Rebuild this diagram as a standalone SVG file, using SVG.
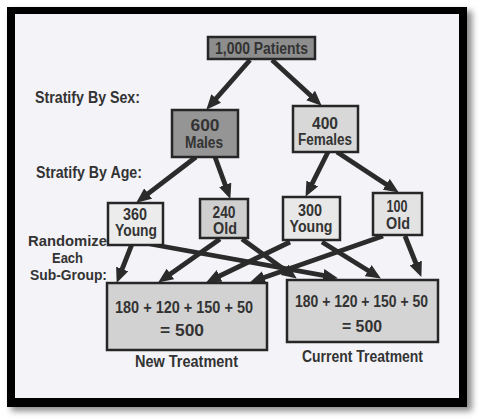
<svg xmlns="http://www.w3.org/2000/svg" width="479" height="419" viewBox="0 0 479 419">
<style>
.t{font-family:"Liberation Sans",Arial,sans-serif;font-weight:bold;font-size:16px;fill:#333;}
.s{font-size:14.5px;}
.m{text-anchor:middle;}
.box{stroke:#262626;stroke-width:2.5;}
.c{stroke:#2b2b2b;stroke-width:4.8;fill:none;marker-end:url(#ah);}
</style>
<defs>
<marker id="ah" markerUnits="userSpaceOnUse" markerWidth="15" markerHeight="13" refX="7" refY="6.5" orient="auto">
<path d="M0,0 L15,6.5 L0,13 z" fill="#2b2b2b"/>
</marker>
<filter id="sh" x="-5%" y="-5%" width="110%" height="110%"><feGaussianBlur stdDeviation="3"/></filter>
</defs>
<rect width="479" height="419" fill="#ffffff"/>
<rect x="11" y="11" width="461" height="400" fill="#8a8a8a" filter="url(#sh)"/>
<rect x="7" y="7" width="460" height="400" fill="#000"/>
<rect x="15" y="14" width="444" height="384" fill="#f4f3f8"/>

<g id="labels">
<text class="t" x="35" y="103" textLength="105" lengthAdjust="spacingAndGlyphs">Stratify By Sex:</text>
<text class="t" x="36" y="178" textLength="106" lengthAdjust="spacingAndGlyphs">Stratify By Age:</text>
<text class="t s m" x="67.5" y="246" textLength="79" lengthAdjust="spacingAndGlyphs">Randomize</text>
<text class="t s m" x="67.5" y="263" textLength="31" lengthAdjust="spacingAndGlyphs">Each</text>
<text class="t s m" x="68.5" y="280" textLength="77" lengthAdjust="spacingAndGlyphs">Sub-Group:</text>
</g>

<g id="connectors">
<line class="c" x1="250" y1="60" x2="211.6" y2="103.7"/>
<line class="c" x1="272" y1="60" x2="315.8" y2="100.3"/>
<line class="c" x1="196" y1="157" x2="142.6" y2="197.8"/>
<line class="c" x1="215" y1="157" x2="227.6" y2="191.4"/>
<line class="c" x1="328" y1="152" x2="309.1" y2="189.7"/>
<line class="c" x1="337" y1="152" x2="392.1" y2="188.2"/>
<line class="c" x1="132" y1="244" x2="119.6" y2="275.5"/>
<line class="c" x1="150" y1="244" x2="330.1" y2="276.7"/>
<line class="c" x1="220" y1="239" x2="164.7" y2="278.0"/>
<line class="c" x1="242" y1="239" x2="290.3" y2="273.9"/>
<line class="c" x1="290" y1="242" x2="213.3" y2="279.0"/>
<line class="c" x1="322" y1="242" x2="374.1" y2="274.3"/>
<line class="c" x1="383" y1="236" x2="257.6" y2="279.7"/>
<line class="c" x1="405" y1="236" x2="418.4" y2="269.5"/>
</g>

<g id="patients">
<rect class="box" x="208" y="37" width="107" height="22" fill="#8d8d8d"/>
<text class="t m" x="261.5" y="54" textLength="93" lengthAdjust="spacingAndGlyphs">1,000 Patients</text>
</g>
<g id="males">
<rect class="box" x="172" y="110" width="66" height="47" fill="#959595"/>
<text class="t m" x="205" y="131" textLength="29" lengthAdjust="spacingAndGlyphs">600</text>
<text class="t m" x="204" y="148" textLength="38" lengthAdjust="spacingAndGlyphs">Males</text>
</g>
<g id="females">
<rect class="box" x="293" y="106" width="65" height="46" fill="#d8d8d8"/>
<text class="t m" x="325" y="129" textLength="26" lengthAdjust="spacingAndGlyphs">400</text>
<text class="t m" x="325" y="145" textLength="54" lengthAdjust="spacingAndGlyphs">Females</text>
</g>
<g id="young360">
<rect class="box" x="108" y="203" width="55" height="42" fill="#ececec"/>
<text class="t m" x="135" y="220" textLength="24" lengthAdjust="spacingAndGlyphs">360</text>
<text class="t m" x="136" y="236" textLength="42" lengthAdjust="spacingAndGlyphs">Young</text>
</g>
<g id="old240">
<rect class="box" x="200" y="199" width="48" height="39" fill="#cfcfcf"/>
<text class="t m" x="224" y="218" textLength="23" lengthAdjust="spacingAndGlyphs">240</text>
<text class="t m" x="225" y="234" textLength="24" lengthAdjust="spacingAndGlyphs">Old</text>
</g>
<g id="young300">
<rect class="box" x="283" y="197" width="57" height="43" fill="#e8e8e8"/>
<text class="t m" x="310" y="216" textLength="24" lengthAdjust="spacingAndGlyphs">300</text>
<text class="t m" x="311" y="232" textLength="43" lengthAdjust="spacingAndGlyphs">Young</text>
</g>
<g id="old100">
<rect class="box" x="373" y="193" width="49" height="42" fill="#e3e3e3"/>
<text class="t m" x="397" y="212" textLength="21" lengthAdjust="spacingAndGlyphs">100</text>
<text class="t m" x="398" y="229" textLength="24" lengthAdjust="spacingAndGlyphs">Old</text>
</g>
<g id="newTreatment">
<rect class="box" x="107" y="283" width="160" height="67" fill="#d2d2d2"/>
<text class="t m" x="184" y="313" textLength="138" lengthAdjust="spacingAndGlyphs">180 + 120 + 150 + 50</text>
<text class="t m" x="182" y="336" textLength="44" lengthAdjust="spacingAndGlyphs">= 500</text>
<text class="t m" x="186.5" y="367" textLength="103" lengthAdjust="spacingAndGlyphs">New Treatment</text>
</g>
<g id="currentTreatment">
<rect class="box" x="287" y="280" width="151" height="62" fill="#d4d4d4"/>
<text class="t m" x="361.5" y="307" textLength="133" lengthAdjust="spacingAndGlyphs">180 + 120 + 150 + 50</text>
<text class="t m" x="362" y="332" textLength="40" lengthAdjust="spacingAndGlyphs">= 500</text>
<text class="t m" x="362.5" y="362" textLength="121" lengthAdjust="spacingAndGlyphs">Current Treatment</text>
</g>
</svg>
